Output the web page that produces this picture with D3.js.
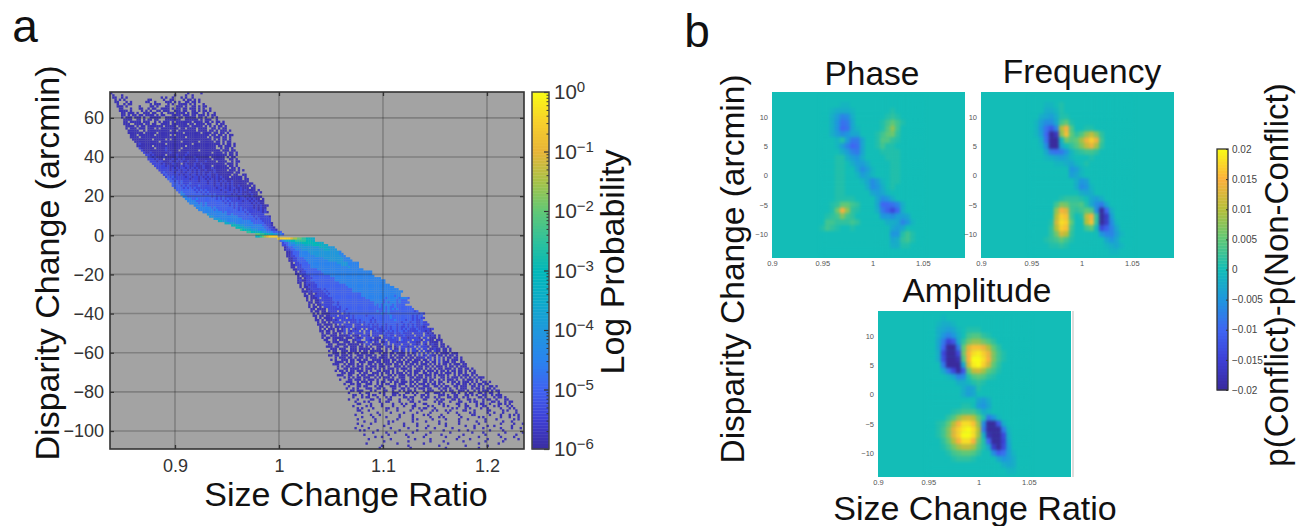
<!DOCTYPE html>
<html>
<head>
<meta charset="utf-8">
<script src="https://cdn.jsdelivr.net/npm/d3@7"></script>
<style>
body { margin: 0; background: #fff; }
text { font-family: "Liberation Sans", Arial, sans-serif; }
</style>
</head>
<body>
<div id="chart"></div>
<script>
// panel a: log probability cells, one char per bin, "." = empty bin
const levelChars = "0123456789ab";
const levelExponents = [-5.8, -5.4, -5, -4.5, -4, -3.5, -3, -2.5, -2, -1.5, -1, -0.5];
const yBinCount = 162;
const densityStartBin = [0,1,1,2,2,3,3,4,4,5, 5,5,6,6,6,7,7,8,8,9, 9,10,11,12,12,13,14,15,16,17, 17,18,19,20,21,22,23,24,25,26, 27,28,28,29,30,31,32,33,34,35, 36,38,39,40,42,44,45,47,49,52, 55,57,59,62,66,66,76,77,78,78, 79,79,80,80,80,81,81,82,82,82, 83,84,84,85,85,85,85,86,86,87, 87,88,88,89,89,90,90,90,91,91, 92,92,92,93,93,94,94,95,95,95, 96,96,97,97,97,98,98,98,99,99, 100,100,100,101,101,102,102,103,103,104, 104,105,105,106,106,106,107,107,108,108, 109,109,109,109,110,110,110,110,110,110, 110,110,110,110,111,112,113,114,115,116, 117,119];
const densityRows = [
// 0
"0..................................0.....0",
"0...0.......................0....0..0",
"00..0.0...............0.0..0...0.0..0",
"0.0.0..........00.....0..00....0.00.0.0",
"00...0.0......00..0....000.0.0..00.00.0",
"0..0.00........0.000...0.0..0000.0.0...0",
"000.0.....0....00.0...00...000.0..00.0.00",
"00...0...00..0.00..0000.0.00.00.000.0.0..0",
"0000.0....0.0.0..00.000..000.00..00.0.00.0",
"00.000.0..000.00..0..000.0000.0.000..0.0..0",
// 10
"00.0.00.00.0000.0.00...0000.000.00.000.0.00",
"0.000.000.0..00000..00000.00.00000.00.0..0.0",
"0000..00.0.00.00...0000000..000000.0.000..0",
"00.00000.000..0.0.000.0.0000000.0000.00.0.00.0",
"000..0000.00.00..0000.0000000.00.0000.00..0.00",
"0000.0.00.0000000.00000.00000.00000.0.0.0.00.0",
"0.000.000.000.0.00000000.00.0000.0000..00.0.00",
"00000..0.0000000000.00.00000000.0000.00.0.000.0",
"0000000.00000.00000000000.0000000.0000.00.00.0",
"000.0000000.000000.0.000000000000000.00.00.0.00",
// 20
"0000.00000000000000000000.000000000.0.000.00.0",
"000000000.00000.0.000000000000000000.0.0.00.0",
"00000000000.000000000.0000000.000000.00.0.00",
"0100000000000.00000000000.000000000000.0.00.0",
"0000000.00000000000000.0000000000000.00.000.0",
"1000000.00001000000.000000000000000..0.00.0",
"10000000000100000.00000000.000000000.000.00",
"1001000000001000000010000000000.0000.0.00.0",
"110100000.000010001000000000000000000.00.0",
"1101000100000100100001000000.000000.0.00",
// 30
"1110100.000100101000001000000.00000..00.0",
"111011000100101001000100010000.0000..0.00",
"1111010001100.0100010010000000000.000.0",
"11111010010010110010001000.000000.00.0",
"111111010101101010100100010000000.00.0",
"1111101101011010101001000100000.000.0.0",
"121111011010110101010010100000000.00",
"1211111010110110101011001000000.00..00",
"12121111101101101010100101000.00000.0",
"2212111111011101101010100100000000.00",
// 40
"221212111111101110110101010010000000",
"2221211121111111011011010101000000.00",
"222212121111211111101101010100100000.0",
"2222121212111111111011101011001000.00",
"222222221212121111110111010101010000.0",
"232222221212121111111011101010001000.0",
"33222222221212121111111010110100100",
"332222222222212121211111101101010000",
"3332232222222212121211110111010100.0",
"33332222222222221212111110110101000",
// 50
"3333232322222222121212111111010100",
"3333232222222222121211111110101000",
"33333332322222222121211111010100",
"3333333232222222221212111110101",
"333333333232222222212111111010",
"43333333322322222212111111",
"4433333333333222222212111110",
"44433333333332222221211111",
"554433333333333222221111",
"5544433333333222221110",
// 60
"6655443333333322110",
"665544433333322110",
"76655444333322110",
"7766555443332222",
"8877665544332",
"56789abbbb",
"bbbbbba9988776655",
"2345566777776665",
"1223445556666666555",
"112333444455556666555",
// 70
"01223334444444445555444",
"011223334444444444555444",
"0012223333444444444444443",
"00122233333444444444444433",
"001122333333344444444444433",
"0011222333333333444444444333",
"00112222333333333344444443333",
"0.11222233333333333334444433333",
"0011122223333333333333344433333",
"00.1122223333333333333333343333",
// 80
"00111222222333333333333333333333",
"0.011222222233333333333333333333333",
"00111222222223333333333333333333333",
"0.011122222222233333333333333333333",
"00.01112222222222333333333333333333333",
"0100112222222222233333333333333333333333",
"00.0111122222222222333333333333333333333",
"0.010111222222222222233333333333333333333",
"0.00111122222222222222333333333333333333333",
"0.001111121222222222222333333333333333333333",
// 90
"0001011111212222222222233333333333333333333333",
"0.00.011112122222222222222333333333333333333",
"00.00111111222222222222222333333333333333233",
"0.0001.1111122222222222222233333333323333323332",
"0.0.001111112222222222222222233333323333323222",
"00.001.111112122222222222222223333232333232222",
"0.0.0011111221222222222222222232323333232222",
"0.00.0.1111112122222222222222222323232232222222",
"00.0000.111111221222222222222222232323232222222",
"0.00.00.1111.121222222222222223223232222222222212",
// 100
"0.0.000011111.1212222222222222232232222222222222121",
"00.00.00111.11111212222212222222222322222222212122",
".0.0.0000.11111.12122222222122222223222222222121211",
"00.0.000101.1111111212222121222222223222212212112",
".0.00.0.01111.1.11121212212122222222222122212211211",
"00.0000.0.1.1111.111.121212122212222122121212112111",
".00.0.0.00100111.111111121112121212212112121211101",
"0.0.000.0.01.1.1011.1.111211121212212121211121111101",
"00.00.0.0001.10111.1.11.112111212121221211111211010",
".0.00.00.0.1.01.1111.11.111112111121121111.1111.1010",
// 110
"00..000.00001.000.1110.111..11211.11121111.111.11010.0",
"0.00.00000.000.1001.111.000.1111211.111011110.11.000.0",
"00..00.0000..0011..110100.11.11111.21111.1110.1100.000",
".00.000..000.0.0001.11.01.001.11101111.11100.11.0000.0",
"..00..0000.00000.0.11.0000.11.1.111.111.1101.10.0100.00",
"000.00..00.000.00.0.0..000.100.01.111011.1.1110.000.00.0",
"..000.000..000.00000.0.00..0.1.00.11.1.11.1.11.00100.00.0",
".0.00..000.000.0.00.000000.0..011.01.1.110.1.100.100.00.0.",
"..000.00.00.00.000.00..0.00.00.0000.0.01.1.1.1.1.0.0000.000",
"00.00.000.0..000.000.0..000.0.0.000.00.0.1.01.100.00.0.00.0",
// 120
"..0.000.00.0.00.0.000.0000.00.000.0.00.0001.01.0.1.0.00.00.0",
"0.0..000.00.00.00..0000.000.00.0.0.00.000.00.1.0.1.0.0.000.0",
"..0000.0.00..000.000.00.000.0.000.00.000.0.00.00.1.000.00..00",
"000..0.000.0.0..00.0.00.000.00.0.0.00.0.000.0.0.0.00.0.000.00",
"..0.0.00.0.000.0.000.000.0..000.0.00.0.00.00.0.000.0.00.0.000",
".0..00.0000.0.000.0.0.0.000.0.000.0..000.0.0.0.00.000.0.00.00.0",
"0.00.0.00.000.0.0..00.000.0.0..0.00.000.0.000.0.00.0.00.00.0.0.0",
"..00.000..0.00..000.0.00.0.000.0.0.00..00.0.00.0.000.0.00.0..00",
"000..00..0.00.000.0.0..00.0.000.00.0.00.000.0.000.0..0.0.000.0.0",
"..0.0.0.00.000..0.0.000.0..000..00.000.0.0.0..00.0.000.0.0.0.0.000",
// 130
"0...00.000.0.000.0..0.000.0.00..0.000.00.00..0.0.000.0..0.000.0.0",
"..000..0.000.0..0.00..0.00.000.00.0..00.0.0.00..0.00.0.000.0.0..00.0",
".0..00.00..000..0.0.00..0.000..0.0.000.0.00.0.0...0.00.00.0.0.00.00",
"..0...00.00...0.00...000.0..0.00.0..000..00.0.00..00.000..00.0.0..00.0",
".0..0.0...000..00.0...00..00.0..0.000.00...0.00.0..0.000..0.00.0.00.0",
"...00.000...0.0...00..0..0.0.00.0...0.000...0.0.00..000.0..0.0.000.0.00",
".0....0..00....0.0...000...00.0.0...00..000.0...00.0..0.00..00.0.00..0",
"...00..0..0.00...0...00.0.0....0..00.0....000.0..00...00.0.0..00..0.000",
"..0...0.00...0...0.0.....00.00...0.00..0.0...00.00..0.0....00.0...0.00.0",
"0...0.....00..0...00...0...0.0....00....0.00...00.0...00.0...0.00..0...00",
// 140
"..0...0.0....0..00....0....00..0......0.00...0...00...0.00..0...00.0..0.00",
"...00....0....0....0...0.0...0...00.....0.0.....00..0....0.00..0...00.0.0",
".0.....0.0....0....0....0...00.....0.0....0.0....0..00...0..00...0.0...0.0",
"...0.0....0.....00...0......0..0.00...0.......0.0...0.0....0..0.....0...0.0",
"..00...0.......0....0.....0....0....0.0...0.0.....00...0.....00.....0.0...0",
"....0......0.....0.....0.....0.....0.......0...0.....0.0.....0..0...0.....0",
".0......0...0........0.....0....0.0.....0.......0.....00......0....0...0.0.0",
"....0....0.....0.....0.....0.......0...0.0.......0.......0.0.......0...0...0.",
"..0.......0.........0......0.0......0.....0.....0...0.......0....0.......0.0",
".....0....0.....0.0........0.....0.....0........0.......0...0.......0...0.....0",
// 150
"..0.....0.......0......0.....0.........0..0.....0........0.........0.....0...0",
"....0.........0........0.....0....0.......0........0...0.....0..0.......0.....0",
".0.....0.........0.......0.......0...0.......0.........0...0.......0....0...0..0",
"...0.0.....0.........0.......0...........0......0...0.........0.....0..........0",
"........0.....0...0.......0.......0........0.........0....0.........0.......0.0",
"...0..........0.......0........0......0.........0.........0.....0.......0....0",
".......0..0...........0......0.........0.....0........0.........0.....0......0",
"...0.........0..........0......0...........0.....0.......0.......0.....0",
".........0..........0.........0.....0........0.........0.......0",
"0.............0...........0..........0.............0........0",
// 160
"......0...........0.............0...........0.........0",
"...0.............0...............0..............0"
];

// panel a: axis values
const xTicksA = [0.9, 1, 1.1, 1.2];
const yTicksA = [60, 40, 20, 0, -20, -40, -60, -80, -100];
const probMajorExp = [0, -1, -2, -3, -4, -5, -6];
const probStopExp = [-6, -5.5, -5, -4.5, -4, -3.5, -3, -2.5, -2, -1.5, -1, -0.5, 0];
const probStopColors = ["#3a2c9f", "#3e3fd4", "#3f62f0", "#2a84ee", "#1f98dc", "#0cabc9", "#02b8b8", "#2fc19c", "#62c876", "#a6c247", "#e8b437", "#f8d02c", "#f9fb15"];

// panel b: p(conflict)-p(non-conflict), thousandths. columns 0.95..1.05, rows +13..-13
const ratioBins = [0.95,0.955,0.96,0.965,0.97,0.975,0.98,0.985,0.99,0.995,1,1.005,1.01,1.015,1.02,1.025,1.03,1.035,1.04,1.045,1.05];
const disparityBins = [13,12,11,10,9,8,7,6,5,4,3,2,1,0,-1,-2,-3,-4,-5,-6,-7,-8,-9,-10,-11,-12,-13];
const phaseValues = [
[0,0,0,0,0,0,0,0,0,0,0,0,0,0,0,0,0,0,0,0,0],
[0,0,0,0,-1,-1,0,0,0,0,0,0,0,0,0,0,0,0,0,0,0],
[0,0,-1,-2,-2,-2,-1,0,0,0,0,0,0,0,1,0,0,0,0,0,0],
[0,0,-2,-4,-7,-6,-2,0,0,0,0,0,0,1,2,1,0,0,0,0,0],
[0,0,-2,-5,-9,-8,-3,0,0,0,0,0,1,3,5,3,1,0,0,0,0],
[0,0,-2,-5,-10,-9,-3,-1,0,0,0,0,1,4,8,3,0,0,0,0,0],
[0,0,-2,-4,-6,-5,-3,-3,0,0,0,1,3,5,6,2,0,0,0,0,0],
[0,0,0,-1,1,-4,-8,-8,-3,0,0,1,4,4,2,1,0,0,0,0,0],
[0,0,0,-1,-4,-7,-10,-9,-3,0,0,1,3,1,1,0,0,0,0,0,0],
[0,0,0,0,-2,-4,-7,-8,-3,0,0,0,1,1,1,1,0,0,0,0,0],
[0,0,0,1,1,-2,-4,-5,-2,0,0,0,0,1,1,1,0,0,0,0,0],
[0,0,0,1,1,0,-2,-4,-4,-2,0,0,0,0,1,1,0,0,0,0,0],
[0,0,0,1,1,0,0,-3,-6,-4,-1,0,0,0,1,1,0,0,0,0,0],
[0,0,0,1,1,0,0,-1,-4,-3,-1,0,0,0,1,1,0,0,0,0,0],
[0,0,0,1,1,0,0,0,-1,-3,-6,-4,-1,0,1,1,0,0,0,0,0],
[0,0,0,1,1,0,0,0,0,-2,-6,-5,-2,0,1,0,0,0,0,0,0],
[0,0,0,1,1,0,0,0,0,0,-3,-4,-3,-1,0,0,0,0,0,0,0],
[0,0,0,1,1,1,1,0,0,0,0,-3,-6,-5,-2,0,0,0,0,0,0],
[0,0,1,2,5,5,3,2,0,0,0,-3,-10,-10,-9,-7,-2,0,0,0,0],
[0,0,1,6,15,8,2,1,0,0,0,-2,-8,-11,-14,-10,-2,0,0,0,0],
[0,1,2,3,7,3,2,0,0,0,0,0,-5,-5,-6,-4,-4,-3,0,0,0],
[0,3,3,2,2,2,3,2,0,0,0,0,0,-2,-2,-3,-7,-5,-1,0,0],
[1,3,2,1,0,0,1,0,0,0,0,0,0,0,-3,-4,-3,0,0,0,0],
[0,0,0,0,0,0,0,0,0,0,0,0,0,0,-5,-5,1,3,1,0,0],
[0,0,0,0,0,0,0,0,0,0,0,0,0,0,-3,-2,2,3,1,0,0],
[0,0,0,0,0,0,0,0,0,0,0,0,0,0,-2,-2,1,1,0,0,0],
[0,0,0,0,0,0,0,0,0,0,0,0,0,0,0,0,0,0,0,0,0]
];
const frequencyValues = [
[0,0,0,0,0,0,0,0,0,0,0,0,0,0,0,0,0,0,0,0,0],
[0,0,0,-1,-1,0,1,0,0,0,0,0,0,0,0,0,0,0,0,0,0],
[0,0,0,-2,-2,-1,1,0,0,0,0,0,0,0,0,0,0,0,0,0,0],
[0,0,-2,-3,-4,-2,1,1,0,0,0,0,0,0,0,0,0,0,0,0,0],
[0,-1,-4,-6,-6,-3,3,5,1,0,0,0,0,0,0,0,0,0,0,0,0],
[0,-1,-5,-9,-12,-7,10,15,4,0,0,1,1,0,0,0,0,0,0,0,0],
[0,-1,-4,-10,-20,-17,8,16,5,2,4,8,11,7,2,0,0,0,0,0,0],
[0,0,-2,-9,-20,-20,-1,6,4,5,9,14,17,14,3,0,0,0,0,0,0],
[0,0,-1,-6,-20,-20,-3,0,2,4,7,11,14,9,2,0,0,0,0,0,0],
[0,0,0,-3,-8,-9,-8,-5,-1,1,2,3,3,2,0,0,0,0,0,0,0],
[0,0,0,-1,-2,-3,-4,-3,-1,0,0,0,1,0,0,0,0,0,0,0,0],
[0,0,0,0,0,-1,-1,-2,-3,-1,0,1,0,0,0,0,0,0,0,0,0],
[0,0,0,0,0,0,0,0,-5,-4,-1,0,0,0,0,0,0,0,0,0,0],
[0,0,0,0,0,0,0,0,-4,-3,-1,0,0,0,0,0,0,0,0,0,0],
[0,0,0,0,0,0,0,0,0,-2,-5,-4,0,0,0,0,0,0,0,0,0],
[0,0,0,0,0,0,0,0,0,-2,-6,-5,-1,0,0,0,0,0,0,0,0],
[0,0,0,0,0,0,0,0,0,0,-2,-3,-2,0,0,0,0,0,0,0,0],
[0,0,0,0,0,0,1,2,2,2,1,0,-3,-4,-2,0,0,0,0,0,0],
[0,0,0,0,0,3,7,6,3,3,4,1,-3,-6,-8,-3,0,0,0,0,0],
[0,0,0,0,0,8,15,13,3,2,3,5,4,-6,-20,-10,-2,0,0,0,0],
[0,0,0,0,0,10,17,16,3,0,1,11,15,2,-20,-16,-4,0,0,0,0],
[0,0,0,0,1,12,18,17,5,0,0,10,16,2,-20,-16,-6,-1,0,0,0],
[0,0,0,0,2,10,17,16,3,0,0,3,5,-1,-14,-11,-7,-3,0,0,0],
[0,0,0,0,2,6,12,10,2,0,0,0,0,0,-5,-7,-7,-4,-1,0,0],
[0,0,0,1,2,3,5,3,1,0,0,0,0,0,0,-3,-5,-3,0,0,0],
[0,0,0,0,1,1,2,1,0,0,0,0,0,0,0,-1,-2,-3,-1,0,0],
[0,0,0,0,0,0,0,0,0,0,0,0,0,0,0,0,-1,-1,0,0,0]
];
const amplitudeValues = [
[0,0,0,-1,0,0,0,0,0,0,0,0,0,0,0,0,0,0,0,0,0],
[0,0,-1,-2,-2,-1,0,0,0,0,0,0,0,0,0,0,0,0,0,0,0],
[0,0,-2,-3,-4,-3,-1,0,1,1,1,0,0,0,0,0,0,0,0,0,0],
[0,0,-2,-5,-7,-5,-2,0,3,4,4,2,1,0,0,0,0,0,0,0,0],
[0,0,-3,-8,-15,-12,-3,2,6,8,8,6,4,2,0,0,0,0,0,0,0],
[0,0,-3,-10,-20,-20,-8,5,13,16,16,14,10,5,2,0,0,0,0,0,0],
[0,0,-2,-14,-20,-20,-14,6,15,18,19,17,14,7,3,1,0,0,0,0,0],
[0,0,-2,-13,-20,-20,-18,4,15,20,20,18,15,7,3,1,0,0,0,0,0],
[0,0,0,-8,-20,-20,-20,-3,12,19,20,17,12,5,2,0,0,0,0,0,0],
[0,0,0,-3,-8,-14,-20,-12,5,11,12,9,5,3,1,0,0,0,0,0,0],
[0,0,0,0,-1,-3,-7,-6,1,4,5,4,2,1,0,0,0,0,0,0,0],
[0,0,0,0,0,0,-2,-2,-1,1,2,1,0,0,0,0,0,0,0,0,0],
[0,0,0,0,0,0,0,-2,-4,-3,1,0,0,0,0,0,0,0,0,0,0],
[0,0,0,0,0,0,0,-2,-4,-3,0,0,0,0,0,0,0,0,0,0,0],
[0,0,0,0,0,0,0,0,0,0,-3,-4,-2,0,0,0,0,0,0,0,0],
[0,0,0,0,0,0,0,1,1,0,-4,-5,-3,0,0,0,0,0,0,0,0],
[0,0,0,0,0,1,2,3,3,3,1,-2,-1,0,0,0,0,0,0,0,0],
[0,0,0,0,2,4,8,11,12,10,5,1,-8,-5,-1,0,0,0,0,0,0],
[0,0,1,2,5,10,15,18,18,16,8,-6,-20,-20,-12,-2,0,0,0,0,0],
[0,0,1,3,7,13,17,19,20,18,10,-8,-20,-20,-20,-8,-1,0,0,0,0],
[0,0,1,3,7,13,17,20,20,18,9,-2,-18,-20,-20,-14,-2,0,0,0,0],
[0,0,0,2,5,10,15,18,18,15,6,1,-10,-20,-20,-15,-3,0,0,0,0],
[0,0,0,1,3,6,9,11,11,9,4,1,-3,-16,-20,-14,-4,0,0,0,0],
[0,0,0,0,1,3,4,5,5,4,2,0,0,-6,-11,-9,-4,-1,0,0,0],
[0,0,0,0,0,1,2,2,2,1,0,0,0,0,-3,-5,-4,-2,0,0,0],
[0,0,0,0,0,0,0,0,0,0,0,0,0,0,0,-2,-3,-2,0,0,0],
[0,0,0,0,0,0,0,0,0,0,0,0,0,0,0,0,-1,-1,0,0,0]
];
const ratioTicks = [0.9, 0.95, 1, 1.05];
const disparityTicks = [10, 5, 0, -5, -10];
const diffTicks = [0.02, 0.015, 0.01, 0.005, 0, -0.005, -0.01, -0.015, -0.02];
const diffStopValues = [-20, -15, -10, -5, 0, 5, 10, 15, 20];
const diffStopColors = ["#3a2a9c", "#3d3fd6", "#3f66f2", "#1f96de", "#13bdb7", "#5fc878", "#b5bf3a", "#fcb03c", "#f9fb15"];

const svg = d3.select("#chart").append("svg")
    .attr("width", 1306)
    .attr("height", 526)
    .style("display", "block");

const defs = svg.append("defs");
defs.append("filter").attr("id", "soft").attr("x", "-5%").attr("y", "-5%").attr("width", "110%").attr("height", "110%")
    .attr("color-interpolation-filters", "sRGB")
    .append("feGaussianBlur").attr("stdDeviation", 1.6);
defs.append("filter").attr("id", "speck").attr("x", "-2%").attr("y", "-2%").attr("width", "104%").attr("height", "104%")
    .attr("color-interpolation-filters", "sRGB")
    .append("feGaussianBlur").attr("stdDeviation", 0.35);

function bigText(x, y, str, size, rotate) {
    const t = svg.append("text")
        .attr("text-anchor", "middle")
        .attr("font-size", size)
        .attr("fill", "#111")
        .text(str);
    if (rotate) t.attr("transform", `translate(${x},${y}) rotate(-90)`);
    else t.attr("x", x).attr("y", y);
    return t;
}

// ---- panel a
function drawDensity() {
    const box = {left: 110, right: 524, top: 92, bottom: 449};
    const x = d3.scaleLinear().domain([0.8375, 1.2356]).range([box.left, box.right]);
    const y = d3.scaleLinear().domain([73.2, -109.2]).range([box.top, box.bottom]);
    const xBin = d3.scaleLinear().domain([0, 188]).range([box.left, box.right]);
    const yBin = d3.scaleBand().domain(d3.range(yBinCount)).range([box.top, box.bottom]);
    const color = d3.scaleLinear().domain(probStopExp).range(probStopColors);

    const cells = [];
    densityRows.forEach((str, r) => {
        [...str].forEach((c, i) => {
            const col = densityStartBin[r] + i;
            if (c !== "." && col < 188) cells.push({row: r, col: col, exp: levelExponents[levelChars.indexOf(c)]});
        });
    });

    const g = svg.append("g").attr("class", "panel-a");
    g.append("rect")
        .attr("x", box.left).attr("y", box.top)
        .attr("width", box.right - box.left).attr("height", box.bottom - box.top)
        .attr("fill", "#a3a3a3");

    g.append("g").attr("filter", "url(#speck)")
        .selectAll("rect")
        .data(cells)
        .join("rect")
        .attr("x", d => xBin(d.col))
        .attr("y", d => yBin(d.row))
        .attr("width", xBin(1) - xBin(0) + 0.15)
        .attr("height", yBin.bandwidth() + 0.15)
        .attr("fill", d => color(d.exp));

    // grid over the image like matlab does
    const grid = g.append("g").attr("stroke", "#222").attr("stroke-opacity", 0.27).attr("stroke-width", 1.6);
    grid.selectAll(".gx").data(xTicksA).join("line").attr("class", "gx")
        .attr("x1", d => x(d)).attr("x2", d => x(d)).attr("y1", box.top).attr("y2", box.bottom);
    grid.selectAll(".gy").data(yTicksA).join("line").attr("class", "gy")
        .attr("y1", d => y(d)).attr("y2", d => y(d)).attr("x1", box.left).attr("x2", box.right);

    const axisStyle = sel => {
        sel.select(".domain").remove();
        sel.selectAll("line").attr("stroke", "#333").attr("stroke-width", 1.3);
        sel.selectAll("text").attr("font-size", 18).attr("fill", "#333");
    };
    g.append("g").attr("transform", `translate(0,${box.bottom})`)
        .call(d3.axisBottom(x).tickValues(xTicksA).tickSize(-4).tickPadding(10).tickFormat(d3.format("~g")))
        .call(axisStyle);
    g.append("g").attr("transform", `translate(${box.left},0)`)
        .call(d3.axisLeft(y).tickValues(yTicksA).tickSize(-4).tickPadding(6).tickFormat(d3.format("~g")))
        .call(axisStyle);
    g.append("g").attr("transform", `translate(0,${box.top})`)
        .call(d3.axisTop(x).tickValues(xTicksA).tickSize(-4).tickFormat(""))
        .call(axisStyle);
    g.append("g").attr("transform", `translate(${box.right},0)`)
        .call(d3.axisRight(y).tickValues(yTicksA).tickSize(-4).tickFormat(""))
        .call(axisStyle);
    g.append("rect")
        .attr("x", box.left).attr("y", box.top)
        .attr("width", box.right - box.left).attr("height", box.bottom - box.top)
        .attr("fill", "none").attr("stroke", "#333").attr("stroke-width", 1.6);

    // log colorbar
    const bar = {left: 532, right: 549};
    const probY = d3.scaleLog().domain([1e-6, 1]).range([box.bottom, box.top]);
    const expY = d3.scaleLinear().domain([-6, 0]).range([box.bottom, box.top]);
    const cb = svg.append("g").attr("class", "colorbar-a");
    cb.selectAll("rect").data(d3.range(-6, 0, 0.05)).join("rect")
        .attr("x", bar.left)
        .attr("y", d => expY(d + 0.05))
        .attr("width", bar.right - bar.left)
        .attr("height", d => expY(d) - expY(d + 0.05) + 0.4)
        .attr("fill", d => color(d + 0.025));

    const minor = probMajorExp.slice(1).flatMap(e => d3.range(2, 10).map(m => m * Math.pow(10, e)));
    cb.append("g").attr("transform", `translate(${bar.right},0)`)
        .call(d3.axisLeft(probY).tickValues(minor).tickSize(2.5).tickFormat(""))
        .call(s => { s.select(".domain").remove(); s.selectAll("line").attr("stroke", "#333"); });
    cb.append("g").attr("transform", `translate(${bar.right},0)`)
        .call(d3.axisLeft(probY).tickValues(probMajorExp.map(e => Math.pow(10, e))).tickSize(5).tickFormat(""))
        .call(s => { s.select(".domain").remove(); s.selectAll("line").attr("stroke", "#333").attr("stroke-width", 1.2); });
    cb.append("rect")
        .attr("x", bar.left).attr("y", box.top)
        .attr("width", bar.right - bar.left).attr("height", box.bottom - box.top)
        .attr("fill", "none").attr("stroke", "#444").attr("stroke-width", 1.5);

    const lab = cb.selectAll(".prob-label").data(probMajorExp).join("text")
        .attr("class", "prob-label")
        .attr("x", 554)
        .attr("y", d => expY(d) + 7)
        .attr("font-size", 20.5)
        .attr("fill", "#333");
    lab.append("tspan").text("10");
    lab.append("tspan").attr("dy", -7).attr("font-size", 15).text(d => d === 0 ? "0" : "\u2212" + Math.abs(d));
}

// ---- panel b
function drawDiffMap(values, box, title, titleY) {
    const x = d3.scaleLinear().domain([0.9, 1.092]).range([box.left, box.left + 193]);
    const y = d3.scaleLinear().domain([14.2, -14.1]).range([box.top, box.top + 166]);
    const color = d3.scaleLinear().domain(diffStopValues).range(diffStopColors).clamp(true);
    const cw = x(0.905) - x(0.9);
    const ch = y(0) - y(1);

    const clipId = "clip-" + title;
    defs.append("clipPath").attr("id", clipId).append("rect")
        .attr("x", box.left).attr("y", box.top).attr("width", 193).attr("height", 166);

    const g = svg.append("g").attr("class", "map-" + title);
    const inner = g.append("g").attr("clip-path", `url(#${clipId})`);
    inner.append("rect")
        .attr("x", box.left).attr("y", box.top).attr("width", 193).attr("height", 166)
        .attr("fill", color(0));
    const cells = values.flatMap((row, r) => row.map((v, c) => ({v: v, x: ratioBins[c], y: disparityBins[r]})));
    inner.append("g").attr("filter", "url(#soft)")
        .selectAll("rect").data(cells).join("rect")
        .attr("x", d => x(d.x) - cw / 2)
        .attr("y", d => y(d.y) - ch / 2)
        .attr("width", cw + 0.2)
        .attr("height", ch + 0.2)
        .attr("fill", d => color(d.v));

    const small = sel => {
        sel.select(".domain").remove();
        sel.selectAll("line").remove();
        sel.selectAll("text").attr("font-size", 7.5).attr("fill", "#555");
    };
    g.append("g").attr("transform", `translate(0,${box.top + 166})`)
        .call(d3.axisBottom(x).tickValues(ratioTicks).tickSize(0).tickPadding(3).tickFormat(d3.format("~g")))
        .call(small);
    g.append("g").attr("transform", `translate(${box.left},0)`)
        .call(d3.axisLeft(y).tickValues(disparityTicks).tickSize(0).tickPadding(4).tickFormat(d3.format("~g")))
        .call(small);

    bigText(box.titleX, titleY, title, 33.5);
}

function drawDiffBar() {
    const bar = {left: 1217, right: 1228, top: 149, bottom: 390};
    const y = d3.scaleLinear().domain([-0.02, 0.02]).range([bar.bottom, bar.top]);
    const color = d3.scaleLinear().domain(diffStopValues.map(v => v / 1000)).range(diffStopColors);
    const g = svg.append("g").attr("class", "colorbar-b");
    g.selectAll("rect").data(d3.range(-0.02, 0.02, 0.0005)).join("rect")
        .attr("x", bar.left)
        .attr("y", d => y(d + 0.0005))
        .attr("width", bar.right - bar.left)
        .attr("height", d => y(d) - y(d + 0.0005) + 0.4)
        .attr("fill", d => color(d + 0.00025));
    g.append("g").attr("transform", `translate(${bar.right},0)`)
        .call(d3.axisLeft(y).tickValues(diffTicks).tickSize(2).tickPadding(-14).tickFormat(d3.format("~g")))
        .call(s => {
            s.select(".domain").remove();
            s.selectAll("line").attr("stroke", "#333");
            s.selectAll("text").attr("text-anchor", "start").attr("font-size", 10).attr("fill", "#444").attr("x", 4);
        });
    g.append("rect")
        .attr("x", bar.left).attr("y", bar.top)
        .attr("width", bar.right - bar.left).attr("height", bar.bottom - bar.top)
        .attr("fill", "none").attr("stroke", "#333").attr("stroke-width", 1.3);
}

drawDensity();
bigText(25, 42, "a", 46);
bigText(59, 263, "Disparity Change (arcmin)", 34, true);
bigText(346, 506, "Size Change Ratio", 34);
bigText(624, 262, "Log Probability", 34, true);

bigText(697, 47, "b", 46);
drawDiffMap(phaseValues, {left: 772, top: 92, titleX: 872}, "Phase", 85);
drawDiffMap(frequencyValues, {left: 981, top: 92, titleX: 1082}, "Frequency", 83);
drawDiffMap(amplitudeValues, {left: 878, top: 311, titleX: 977}, "Amplitude", 302);
svg.append("line").attr("x1", 1073).attr("x2", 1073).attr("y1", 311).attr("y2", 477)
    .attr("stroke", "#bbb").attr("stroke-width", 1);
bigText(744, 269, "Disparity Change (arcmin)", 33.5, true);
bigText(975, 520, "Size Change Ratio", 34);
bigText(1288, 275, "p(Conflict)-p(Non-Conflict)", 33, true);
drawDiffBar();
</script>
</body>
</html>
